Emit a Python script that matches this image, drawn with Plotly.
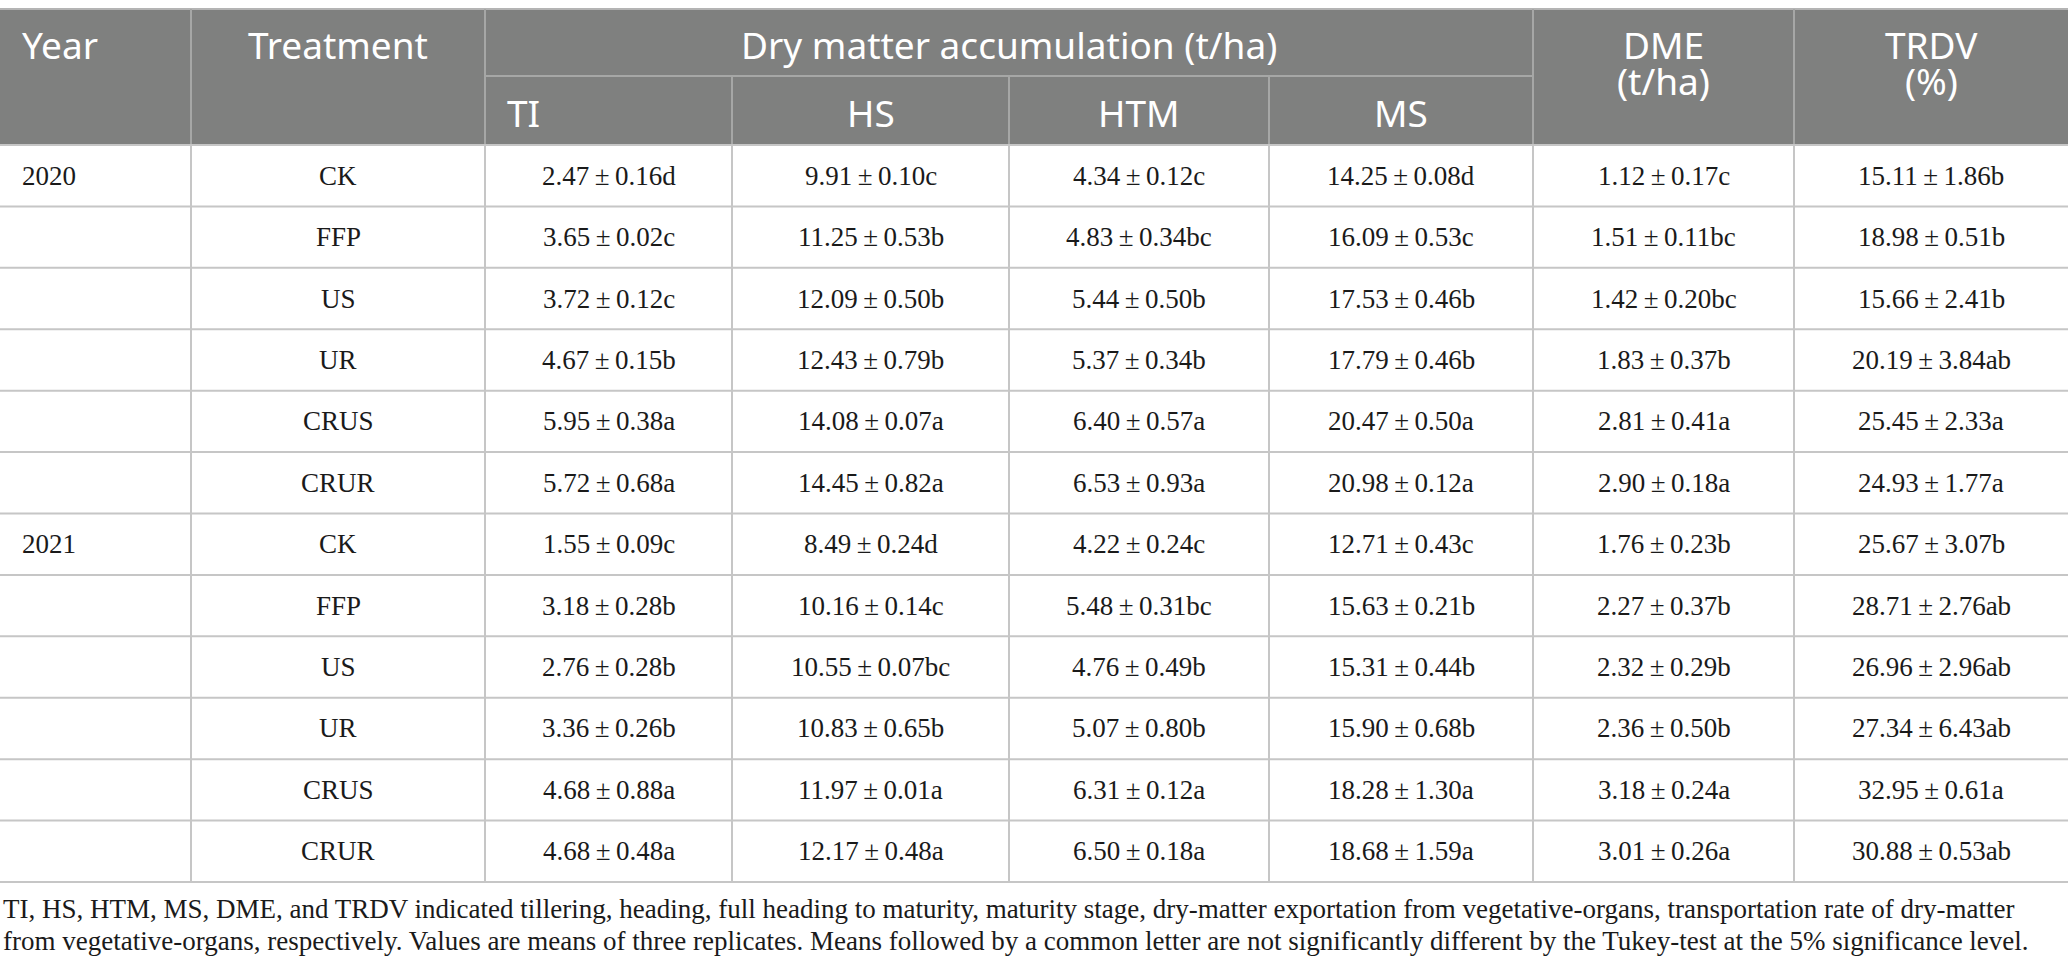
import plotly.graph_objects as go

# table content
years = ["2020", "", "", "", "", "", "2021", "", "", "", "", ""]
treatments = ["CK", "FFP", "US", "UR", "CRUS", "CRUR",
              "CK", "FFP", "US", "UR", "CRUS", "CRUR"]
ti = ["2.47±0.16d", "3.65±0.02c", "3.72±0.12c", "4.67±0.15b", "5.95±0.38a", "5.72±0.68a",
      "1.55±0.09c", "3.18±0.28b", "2.76±0.28b", "3.36±0.26b", "4.68±0.88a", "4.68±0.48a"]
hs = ["9.91±0.10c", "11.25±0.53b", "12.09±0.50b", "12.43±0.79b", "14.08±0.07a", "14.45±0.82a",
      "8.49±0.24d", "10.16±0.14c", "10.55±0.07bc", "10.83±0.65b", "11.97±0.01a", "12.17±0.48a"]
htm = ["4.34±0.12c", "4.83±0.34bc", "5.44±0.50b", "5.37±0.34b", "6.40±0.57a", "6.53±0.93a",
       "4.22±0.24c", "5.48±0.31bc", "4.76±0.49b", "5.07±0.80b", "6.31±0.12a", "6.50±0.18a"]
ms = ["14.25±0.08d", "16.09±0.53c", "17.53±0.46b", "17.79±0.46b", "20.47±0.50a", "20.98±0.12a",
      "12.71±0.43c", "15.63±0.21b", "15.31±0.44b", "15.90±0.68b", "18.28±1.30a", "18.68±1.59a"]
dme = ["1.12±0.17c", "1.51±0.11bc", "1.42±0.20bc", "1.83±0.37b", "2.81±0.41a", "2.90±0.18a",
       "1.76±0.23b", "2.27±0.37b", "2.32±0.29b", "2.36±0.50b", "3.18±0.24a", "3.01±0.26a"]
trdv = ["15.11±1.86b", "18.98±0.51b", "15.66±2.41b", "20.19±3.84ab", "25.45±2.33a", "24.93±1.77a",
        "25.67±3.07b", "28.71±2.76ab", "26.96±2.96ab", "27.34±6.43ab", "32.95±0.61a", "30.88±0.53ab"]

sub_heads = ["TI", "HS", "HTM", "MS"]
footnote = [
    "TI, HS, HTM, MS, DME, and TRDV indicated tillering, heading, full heading to maturity, maturity stage, "
    "dry-matter exportation from vegetative-organs, transportation rate of dry-matter",
    "from vegetative-organs, respectively. Values are means of three replicates. Means followed by a common "
    "letter are not significantly different by the Tukey-test at the 5% significance level.",
]

# layout geometry (pixels)
W, H = 2068, 976
col_x = [0, 191, 485, 732, 1009, 1269, 1533, 1794, 2068]
top, mid, head_bot, tab_bot = 9, 76, 145, 882
row_h = (tab_bot - head_bot) / len(treatments)

head_bg = "#7f807f"
head_line = "#a6a7a6"
grid = "#c6c6c6"
head_font = dict(family="Noto Sans, Open Sans", size=37, color="white")
cell_font = dict(family="Liberation Serif, serif", size=27, color="#1a1a1a")
foot_font = dict(family="Liberation Serif, serif", size=27, color="#1a1a1a")

fig = go.Figure()
shapes = []
ann = []

# header background + lines
shapes.append(dict(type="rect", x0=0, x1=W, y0=top, y1=head_bot, fillcolor=head_bg, line_width=0, layer="below"))
shapes.append(dict(type="line", x0=0, x1=W, y0=top, y1=top, line=dict(color="#b4b4b4", width=2)))
shapes.append(dict(type="line", x0=col_x[2], x1=col_x[6], y0=mid, y1=mid, line=dict(color=head_line, width=2)))
for i in range(1, 8):
    y0 = mid if i in (3, 4, 5) else top
    shapes.append(dict(type="line", x0=col_x[i], x1=col_x[i], y0=y0, y1=head_bot,
                       line=dict(color=head_line, width=2)))

# body grid
for r in range(len(treatments) + 1):
    y = head_bot + r * row_h
    shapes.append(dict(type="line", x0=0, x1=W, y0=y, y1=y, line=dict(color=grid, width=2)))
for i in range(1, 8):
    shapes.append(dict(type="line", x0=col_x[i], x1=col_x[i], y0=head_bot, y1=tab_bot,
                       line=dict(color=grid, width=2)))

def cx(i):
    return (col_x[i] + col_x[i + 1]) / 2

def pm(s):
    return s.replace("±", "\u2009±\u2009")

# header text
ann.append(dict(x=20, y=44, text="Year", xanchor="left", font=head_font))
ann.append(dict(x=cx(1), y=44, text="Treatment", font=head_font))
ann.append(dict(x=(col_x[2] + col_x[6]) / 2, y=44, text="Dry matter accumulation (t/ha)", font=head_font))
for j, name in enumerate(sub_heads):
    if j == 0:
        ann.append(dict(x=col_x[2] + 20, y=112, text=name, xanchor="left", font=head_font))
    else:
        ann.append(dict(x=cx(2 + j), y=112, text=name, font=head_font))
ann.append(dict(x=cx(6), y=44, text="DME", font=head_font))
ann.append(dict(x=cx(6), y=80, text="(t/ha)", font=head_font))
ann.append(dict(x=cx(7), y=44, text="TRDV", font=head_font))
ann.append(dict(x=cx(7), y=80, text="(%)", font=head_font))

# body text
columns = [treatments, ti, hs, htm, ms, dme, trdv]
for r in range(len(treatments)):
    yc = head_bot + (r + 0.5) * row_h
    if years[r]:
        ann.append(dict(x=20, y=yc, text=years[r], xanchor="left", font=cell_font))
    for j, col in enumerate(columns):
        ann.append(dict(x=cx(j + 1), y=yc, text=pm(col[r]), font=cell_font))

# footnote
for k, line in enumerate(footnote):
    ann.append(dict(x=1, y=909 + k * 32, text=line, xanchor="left", font=foot_font))

for a in ann:
    a.update(xref="x", yref="y", showarrow=False)
    a.setdefault("xanchor", "center")
    a.setdefault("yanchor", "middle")

fig.update_layout(
    width=W, height=H,
    margin=dict(l=0, r=0, t=0, b=0),
    paper_bgcolor="white", plot_bgcolor="white",
    xaxis=dict(range=[0, W], visible=False, fixedrange=True),
    yaxis=dict(range=[H, 0], visible=False, fixedrange=True),
    shapes=shapes, annotations=ann,
    showlegend=False,
)

# drop the default body margin so the figure sits at the page corner
fig.write_html("out.html", config={"displayModeBar": False},
               post_script="document.body.style.margin='0px';")
